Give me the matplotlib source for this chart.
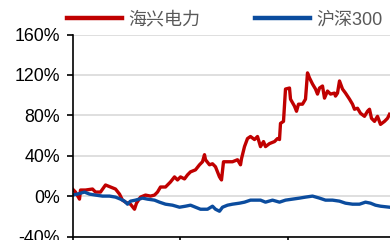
import matplotlib
matplotlib.use("Agg")
import matplotlib.pyplot as plt
from matplotlib.ticker import FuncFormatter

plt.rcParams['font.family'] = ['Liberation Sans', 'Noto Sans CJK SC', 'DejaVu Sans']

red_days = [0, 3, 7, 8, 13, 20, 23, 28, 33, 38, 43, 47, 50, 53, 58, 62, 64, 68, 73, 78, 82, 85, 88, 93, 98,
            102, 105, 108, 112, 115, 118, 123, 127, 130, 132, 133, 137, 140, 143, 147, 149, 151, 155, 160,
            165, 168, 169, 172, 175, 178, 182, 185, 188, 191, 193, 197, 202, 205, 207, 208, 211, 213, 217,
            218, 222, 224, 226, 230, 233, 235, 237, 240, 243, 245, 247, 250, 252, 255, 258, 262, 263, 265,
            267, 270, 273, 277, 280, 282, 285, 288, 292, 295, 297, 299, 302, 305, 308, 312, 315, 317]
red_vals = [7, 4, -3, 6, 6, 7, 4, 4, 11, 9, 7, 2, -4, -6, -8, -13, -7, -1, 1, 0, 1, 4, 9, 9, 14,
            19, 16, 19, 17, 21, 24, 26, 31, 34, 41, 36, 31, 32, 29, 19, 16, 34, 34, 34,
            36, 31, 37, 49, 57, 59, 56, 59, 49, 54, 49, 52, 54, 57, 56, 72, 74, 106, 107,
            96, 89, 84, 91, 91, 96, 122, 117, 111, 106, 101, 107, 109, 97, 104, 101, 102, 99, 102,
            114, 106, 102, 96, 91, 86, 87, 82, 79, 84, 86, 77, 74, 79, 71, 74, 77, 81]

blue_days = [0, 5, 12, 17, 23, 30, 37, 43, 48, 52, 55, 58, 63, 70, 75, 82, 87, 93, 100, 107, 113, 118,
             123, 128, 135, 140, 143, 147, 150, 155, 160, 167, 172, 178, 183, 188, 193, 200, 207, 213,
             220, 227, 233, 240, 247, 253, 260, 267, 273, 280, 287, 293, 298, 303, 308, 317]
blue_vals = [1, 2, 4, 2, 1, 0, 0, -1, -3, -5, -8, -5, -4, -2, -3, -4, -6, -8, -9, -11, -10, -9,
             -11, -13, -13, -10, -13, -15, -11, -9, -8, -7, -6, -4, -4, -4, -6, -4, -6, -4,
             -3, -2, -1, 0, -2, -4, -4, -5, -7, -8, -8, -6, -7, -9, -10, -11]

series_names = ['海兴电力', '沪深300']
y_ticks = [-40, 0, 40, 80, 120, 160]
x_ticks = [0, 108, 216, 324]

W, H = 390, 240
fig = plt.figure(figsize=(W / 100, H / 100), dpi=100)
ax = fig.add_axes([72.5 / W, (H - 236.5) / H, 330 / W, 202 / H])

l1, = ax.plot(red_days, red_vals, color='#C00000', lw=2.4, solid_joinstyle='round')
l2, = ax.plot(blue_days, blue_vals, color='#0B4C9E', lw=2.4, solid_joinstyle='round')

ax.set_ylim(-40, 160)
ax.set_xlim(0, 330)
ax.set_yticks(y_ticks)
ax.yaxis.set_major_formatter(FuncFormatter(lambda v, p: f'{int(v)}%'))
ax.set_xticks(x_ticks)
ax.set_xticklabels([])
ax.grid(axis='y', color='#D9D9D9', lw=1.2)
ax.set_axisbelow(True)
for s in ['top', 'right']:
    ax.spines[s].set_visible(False)
for s in ['left', 'bottom']:
    ax.spines[s].set_color('black')
    ax.spines[s].set_linewidth(1.2)
ax.tick_params(axis='y', length=4, width=1.2, labelsize=12.8, pad=5, colors='black')
ax.tick_params(axis='x', length=4, width=1.2)

leg = fig.legend([l1, l2], series_names, loc='center left', bbox_to_anchor=(67 / W, 1 - 20 / H),
                 ncol=2, frameon=False, fontsize=13, handlelength=3.05, handletextpad=0.35,
                 columnspacing=3.0, borderaxespad=0, borderpad=0)
for t in leg.get_texts():
    t.set_color('#595959')
for h in leg.get_lines():
    h.set_linewidth(3.2)

fig.savefig('out.png', dpi=100)
